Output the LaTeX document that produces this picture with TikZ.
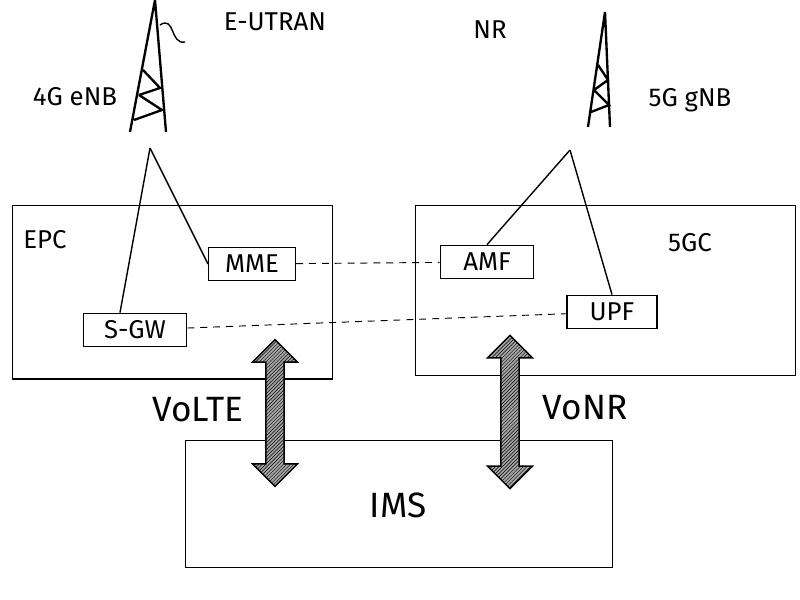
\documentclass[tikz,border=0pt]{standalone}
\usepackage{fontspec}
\setmainfont{Fira Sans}
\usetikzlibrary{shapes,arrows,positioning,patterns}

\begin{document}
\begin{tikzpicture}[
    x=0.3mm, y=-0.3mm,
    core/.style={rectangle, draw, line width=1.2pt, anchor=north west},
    func/.style={rectangle, draw, line width=1.2pt, minimum height=1cm, inner sep=1pt, text centered, font=\fontsize{22}{24}\selectfont},
    lbl/.style={font=\fontsize{22}{24}\selectfont},
    big/.style={font=\fontsize{30}{34}\selectfont},
    link/.style={thick, dash pattern=on 6pt off 5pt},
    radio/.style={line width=1.2pt},
    voice/.style={double arrow, draw, line width=1.2pt, rotate=90, minimum width=1.35cm, double arrow head extend=0.2cm, preaction={fill=gray!70}, pattern=north east lines},
]
    \useasboundingbox (0,0) rectangle (800,600);
    % Core networks
    \node[core, minimum width=9.6cm, minimum height=5.2cm] (epc) at (12,205) {};
    \node[core, minimum width=11.4cm, minimum height=5.1cm] (fivegc) at (415,205) {};
    \node[core, minimum width=12.8cm, minimum height=3.8cm] (ims) at (185,440) {};
    \node[lbl] at (45,240) {EPC};
    \node[lbl] at (690,243) {5GC};
    \node[big] at (398,505) {IMS};

    % Functions
    \node[func, minimum width=2.6cm] (mme) at (252,264) {MME};
    \node[func, minimum width=2.8cm] (amf) at (487,262) {AMF};
    \node[func, minimum width=3.1cm] (sgw) at (135,330) {S-GW};
    \node[func, minimum width=2.7cm] (upf) at (612,312) {UPF};
    \draw[link] (mme) -- (amf);
    \draw[link] (sgw) -- (upf);

    % Towers
    \coordinate (enbtop) at (155,0);
    \coordinate (enbl) at (130,132);
    \coordinate (enbr) at (166,132);
    \coordinate (enbfoot) at (150,148);
    \draw[radio, line width=2pt] (enbl) -- (enbtop) -- (enbr)
        (139,95) -- (162,110) -- (134,120) (143,70) -- (160,88) -- (139,95);
    \draw[radio] (160,25) .. controls (175,15) and (170,45) .. (185,42);
    \coordinate (gnbtop) at (605,12);
    \coordinate (gnbl) at (588,127);
    \coordinate (gnbr) at (610,127);
    \coordinate (gnbfoot) at (570,150);
    \draw[radio, line width=2pt] (gnbl) -- (gnbtop) -- (gnbr)
        (594,90) -- (609,105) -- (591,112) (598,65) -- (608,80) -- (594,90);
    \draw[radio] (enbfoot) -- (sgw.north west -| 120,0);
    \draw[radio] (enbfoot) -- (mme.west);
    \draw[radio] (gnbfoot) -- (amf.north);
    \draw[radio] (gnbfoot) -- (upf.north);

    % Labels
    \node[lbl] at (275,22) {E-UTRAN};
    \node[lbl] at (490,30) {NR};
    \node[lbl] at (75,97) {4G eNB};
    \node[lbl] at (690,100) {5G gNB};
    \node[big] at (198,410) {VoLTE};
    \node[big] at (585,408) {VoNR};

    % Voice paths
    \node[voice, minimum height=4.4cm] (volte) at (275,413) {};
    \node[voice, minimum height=4.6cm] (vonr) at (510,412) {};
\end{tikzpicture}
\end{document}
